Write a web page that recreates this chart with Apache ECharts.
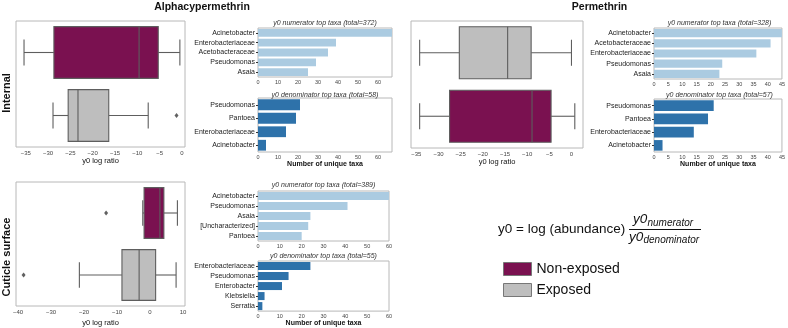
<!DOCTYPE html>
<html>
<head>
<meta charset="utf-8">
<script src="https://cdn.jsdelivr.net/npm/echarts@6/dist/echarts.min.js"></script>
<style>
  html, body { margin: 0; padding: 0; background: #fff; }
  #chart { width: 788px; height: 328px; }
</style>
</head>
<body>
<div id="chart"></div>
<script>
// box stats: [min, q1, median, q3, max]
const boxGroups = ["Non-exposed", "Exposed"];
const alphaNonExposed = [-35.4, -28.7, -9.6, -5.3, -0.45];
const alphaExposed = [-28.9, -25.5, -23.3, -16.4, -7.55];
const alphaExposedOutliers = [-1.2];
const permExposed = [-34.25, -25.3, -14.4, -9.1, 0];
const permNonExposed = [-34.25, -27.5, -8.9, -4.6, 0.75];
const cuticleNonExposed = [-2.2, -1.8, 3.0, 4.2, 8.3];
const cuticleExposed = [-21.4, -8.5, -3.3, 1.7, 7.9];
const cuticleNonExposedOutliers = [-13.3];
const cuticleExposedOutliers = [-38.3];

const internalTicks = [-35, -30, -25, -20, -15, -10, -5, 0];
const cuticleTicks = [-40, -30, -20, -10, 0, 10];

const alphaNumTaxa = ["Acinetobacter", "Enterobacteriaceae", "Acetobacteraceae", "Pseudomonas", "Asaia"];
const alphaNumCounts = [67, 39, 35, 29, 25];
const alphaDenTaxa = ["Pseudomonas", "Pantoea", "Enterobacteriaceae", "Acinetobacter"];
const alphaDenCounts = [21, 19, 14, 4];
const permNumTaxa = ["Acinetobacter", "Acetobacteraceae", "Enterobacteriaceae", "Pseudomonas", "Asaia"];
const permNumCounts = [45, 41, 36, 24, 23];
const permDenTaxa = ["Pseudomonas", "Pantoea", "Enterobacteriaceae", "Acinetobacter"];
const permDenCounts = [21, 19, 14, 3];
const cutNumTaxa = ["Acinetobacter", "Pseudomonas", "Asaia", "[Uncharacterized]", "Pantoea"];
const cutNumCounts = [60, 41, 24, 23, 20];
const cutDenTaxa = ["Enterobacteriaceae", "Pseudomonas", "Enterobacter", "Klebsiella", "Serratia"];
const cutDenCounts = [24, 14, 11, 3, 2];

const FONT = "'Liberation Sans', Arial, sans-serif";
const PURPLE = "#7a1150";
const GREY = "#bebebe";
const EDGE = "#5e5e5e";
const LIGHT_BLUE = "#abcbe1";
const DARK_BLUE = "#2e72aa";
const FRAME = "#b8b8b8";

const chart = echarts.init(document.getElementById("chart"), null, { renderer: "canvas" });

// grid layout: 0 A-box, 1 A-num, 2 A-den, 3 P-box, 4 P-num, 5 P-den, 6 C-box, 7 C-num, 8 C-den
const grids = [
  { left: 16, top: 21, width: 169, height: 126 },
  { left: 258, top: 28, width: 134, height: 49 },
  { left: 258, top: 98, width: 134, height: 54 },
  { left: 411, top: 21, width: 172, height: 127 },
  { left: 654, top: 28, width: 131, height: 51 },
  { left: 654, top: 99, width: 131, height: 53 },
  { left: 16, top: 182, width: 169, height: 124 },
  { left: 258, top: 191, width: 131, height: 50 },
  { left: 258, top: 261, width: 131, height: 51 },
].map((g) => ({ ...g, show: true, borderColor: FRAME, borderWidth: 1, containLabel: false }));

function minorTicks(min, max, step) {
  const out = [];
  for (let v = Math.ceil(min / step) * step; v <= max; v += step) out.push(+v.toFixed(3));
  return out;
}

function boxXAxis(gridIndex, min, max, ticks, nameGap) {
  return {
    type: "value", gridIndex, min, max,
    axisLine: { show: false },
    splitLine: { show: false },
    axisTick: { customValues: ticks, length: 3, lineStyle: { color: "#666" } },
    axisLabel: {
      customValues: ticks, fontSize: 6, color: "#444", margin: 3, fontFamily: FONT,
      formatter: (v) => String(v).replace("-", "\u2212"),
    },
    name: "y0 log ratio", nameLocation: "middle", nameGap,
    nameTextStyle: { fontSize: 7.5, color: "#111", fontFamily: FONT },
  };
}

function minorXAxis(gridIndex, min, max, step) {
  return {
    type: "value", gridIndex, min, max, position: "bottom",
    axisLine: { show: false }, splitLine: { show: false },
    axisLabel: { show: false },
    axisTick: { customValues: minorTicks(min, max, step), length: 1.5, lineStyle: { color: "#888" } },
  };
}

function barXAxis(gridIndex, max, interval, withName, showMax) {
  const ax = {
    type: "value", gridIndex, min: 0, max, interval,
    axisLine: { show: false }, splitLine: { show: false },
    axisTick: { length: 2, lineStyle: { color: "#666" } },
    axisLabel: { fontSize: 5.5, color: "#444", margin: 2, fontFamily: FONT, showMaxLabel: showMax },
  };
  if (withName) {
    ax.name = "Number of unique taxa";
    ax.nameLocation = "middle";
    ax.nameGap = 7;
    ax.nameTextStyle = { fontSize: 7, fontWeight: "bold", color: "#111", fontFamily: FONT };
  }
  return ax;
}

function boxYAxis(gridIndex, cats) {
  return {
    type: "category", gridIndex, data: cats, inverse: true,
    axisLine: { show: false }, axisTick: { show: false }, axisLabel: { show: false },
  };
}

function barYAxis(gridIndex, cats) {
  return {
    type: "category", gridIndex, data: cats, inverse: true,
    axisLine: { show: false },
    axisTick: { show: true, alignWithLabel: true, length: 2, lineStyle: { color: "#333" } },
    axisLabel: { fontSize: 7, color: "#222", margin: 3, fontFamily: FONT },
  };
}

const xAxes = [
  boxXAxis(0, -37.2, 0.7, internalTicks, 10),
  barXAxis(1, 67, 10, false, false),
  barXAxis(2, 67, 10, true, false),
  boxXAxis(3, -36.2, 2.6, internalTicks, 10),
  barXAxis(4, 45, 5, false, true),
  barXAxis(5, 45, 5, true, true),
  boxXAxis(6, -40.6, 10.6, cuticleTicks, 13),
  barXAxis(7, 60, 10, false, true),
  barXAxis(8, 60, 10, true, true),
  minorXAxis(0, -37.2, 0.7, 1),
  minorXAxis(3, -36.2, 2.6, 1),
  minorXAxis(6, -40.6, 10.6, 2),
];

const yAxes = [
  boxYAxis(0, boxGroups),
  barYAxis(1, alphaNumTaxa),
  barYAxis(2, alphaDenTaxa),
  boxYAxis(3, ["Exposed", "Non-exposed"]),
  barYAxis(4, permNumTaxa),
  barYAxis(5, permDenTaxa),
  boxYAxis(6, boxGroups),
  barYAxis(7, cutNumTaxa),
  barYAxis(8, cutDenTaxa),
];

function boxRenderer(fill) {
  return function (params, api) {
    const c = api.value(0);
    const x = [1, 2, 3, 4, 5].map((i) => api.coord([api.value(i), c])[0]);
    const cy = api.coord([api.value(1), c])[1];
    const h = api.size([0, 1])[1] * 0.41;
    const edge = { stroke: EDGE, lineWidth: 1.1 };
    return {
      type: "group",
      children: [
        { type: "line", shape: { x1: x[0], y1: cy, x2: x[1], y2: cy }, style: edge },
        { type: "line", shape: { x1: x[3], y1: cy, x2: x[4], y2: cy }, style: edge },
        { type: "line", shape: { x1: x[0], y1: cy - h / 2, x2: x[0], y2: cy + h / 2 }, style: edge },
        { type: "line", shape: { x1: x[4], y1: cy - h / 2, x2: x[4], y2: cy + h / 2 }, style: edge },
        { type: "rect", shape: { x: x[1], y: cy - h, width: x[3] - x[1], height: 2 * h }, style: { fill, stroke: EDGE, lineWidth: 1.1 } },
        { type: "line", shape: { x1: x[2], y1: cy - h, x2: x[2], y2: cy + h }, style: edge },
      ],
    };
  };
}

function boxSeries(name, axis, catIdx, stats) {
  const fill = name === "Non-exposed" ? PURPLE : GREY;
  return {
    name, type: "custom", xAxisIndex: axis, yAxisIndex: axis,
    itemStyle: { color: fill },
    renderItem: boxRenderer(fill),
    encode: { x: [1, 2, 3, 4, 5], y: 0 },
    data: [[catIdx, ...stats]],
    silent: true,
  };
}

function outlierSeries(axis, catIdx, values) {
  return {
    type: "scatter", xAxisIndex: axis, yAxisIndex: axis,
    symbol: "diamond", symbolSize: [4, 5],
    itemStyle: { color: "#3a3a3a" },
    data: values.map((v) => [v, catIdx]),
    silent: true,
  };
}

function barSeries(axis, counts, color) {
  return {
    type: "bar", xAxisIndex: axis, yAxisIndex: axis,
    data: counts, barCategoryGap: "20%",
    itemStyle: { color },
    silent: true,
  };
}

const series = [
  boxSeries("Non-exposed", 0, 0, alphaNonExposed),
  boxSeries("Exposed", 0, 1, alphaExposed),
  outlierSeries(0, 1, alphaExposedOutliers),
  boxSeries("Exposed", 3, 0, permExposed),
  boxSeries("Non-exposed", 3, 1, permNonExposed),
  boxSeries("Non-exposed", 6, 0, cuticleNonExposed),
  boxSeries("Exposed", 6, 1, cuticleExposed),
  outlierSeries(6, 0, cuticleNonExposedOutliers),
  outlierSeries(6, 1, cuticleExposedOutliers),
  barSeries(1, alphaNumCounts, LIGHT_BLUE),
  barSeries(2, alphaDenCounts, DARK_BLUE),
  barSeries(4, permNumCounts, LIGHT_BLUE),
  barSeries(5, permDenCounts, DARK_BLUE),
  barSeries(7, cutNumCounts, LIGHT_BLUE),
  barSeries(8, cutDenCounts, DARK_BLUE),
];

function label(text, x, y, opts = {}) {
  return {
    type: "text", x, y, rotation: opts.rotation || 0,
    style: {
      text, fontFamily: FONT, fontSize: opts.size || 7,
      fontWeight: opts.weight || "normal", fontStyle: opts.style || "normal",
      fill: opts.color || "#111", align: opts.align || "center", verticalAlign: "middle",
    },
    silent: true,
  };
}

const graphic = [
  label("Alphacypermethrin", 202, 7.5, { size: 10.5, weight: "bold" }),
  label("Permethrin", 599.5, 7.5, { size: 10.5, weight: "bold" }),
  label("Internal", 6.5, 93, { size: 11, weight: "bold", rotation: Math.PI / 2 }),
  label("Cuticle surface", 6.5, 257, { size: 11, weight: "bold", rotation: Math.PI / 2 }),
  label("y0 numerator top taxa (total=372)", 325, 23.5, { style: "italic", color: "#333" }),
  label("y0 denominator top taxa (total=58)", 325, 95, { style: "italic", color: "#333" }),
  label("y0 numerator top taxa (total=328)", 719.5, 23.5, { style: "italic", color: "#333" }),
  label("y0 denominator top taxa (total=57)", 719.5, 95.5, { style: "italic", color: "#333" }),
  label("y0 numerator top taxa (total=389)", 323.5, 185, { style: "italic", color: "#333" }),
  label("y0 denominator top taxa (total=55)", 323.5, 256.5, { style: "italic", color: "#333" }),
  // formula
  label("y0 = log (abundance)", 498, 229.5, { size: 13.5, align: "left" }),
  label("y0", 633, 219.5, { size: 13.5, style: "italic", align: "left" }),
  label("numerator", 647.5, 223, { size: 10, style: "italic", align: "left" }),
  label("y0", 629, 237, { size: 13.5, style: "italic", align: "left" }),
  label("denominator", 643.5, 240, { size: 10, style: "italic", align: "left" }),
  { type: "line", shape: { x1: 629, y1: 229.5, x2: 701, y2: 229.5 }, style: { stroke: "#111", lineWidth: 1 }, silent: true },
];

chart.setOption({
  backgroundColor: "#fff",
  animation: false,
  grid: grids,
  xAxis: xAxes,
  yAxis: yAxes,
  series,
  graphic,
  legend: {
    data: ["Non-exposed", "Exposed"],
    orient: "vertical",
    left: 498, top: 257,
    itemWidth: 28, itemHeight: 13, itemGap: 7,
    icon: "rect",
    itemStyle: { borderColor: "#777", borderWidth: 1 },
    textStyle: { fontSize: 14, color: "#111", fontFamily: FONT },
    selectedMode: false,
  },
});
</script>
</body>
</html>
